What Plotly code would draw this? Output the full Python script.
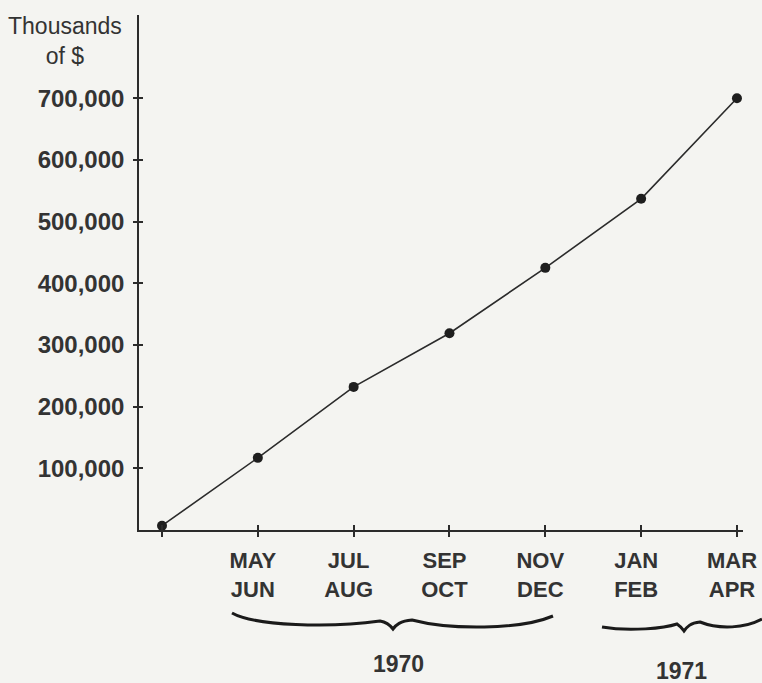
import plotly.graph_objects as go

# ---- data ----
tick_labels = ["", "MAY<br>JUN", "JUL<br>AUG", "SEP<br>OCT", "NOV<br>DEC", "JAN<br>FEB", "MAR<br>APR"]
values = [7000, 117000, 232000, 319000, 425000, 537000, 700000]
y_ticks = [100000, 200000, 300000, 400000, 500000, 600000, 700000]
y_tick_text = ["100,000", "200,000", "300,000", "400,000", "500,000", "600,000", "700,000"]
years = ["1970", "1971"]
y_title = "Thousands<br>of $"

W, H = 762, 683
ML, MR, MT, MB = 139, 19, 15, 153
INK = "#2b2b2b"
TXT = "#333333"
BG = "#f4f4f1"
SANS = "Liberation Sans, Arial, sans-serif"

xs = list(range(len(values)))

fig = go.Figure()
fig.add_trace(go.Scatter(
    x=xs, y=values, mode="lines+markers",
    line=dict(color=INK, width=1.6),
    marker=dict(color="#1e1e1e", size=10),
    cliponaxis=False, showlegend=False, hoverinfo="skip",
))
# invisible trace to activate overlay axes (for crossing ticks)
fig.add_trace(go.Scatter(x=xs, y=values, xaxis="x2", yaxis="y2", mode="none",
                         showlegend=False, hoverinfo="skip"))

xr = [-0.24, 6.063]
yr = [0, 835000]

fig.update_layout(
    width=W, height=H,
    margin=dict(l=ML, r=MR, t=MT, b=MB, autoexpand=False),
    paper_bgcolor=BG, plot_bgcolor=BG,
    xaxis=dict(range=xr, tickvals=xs, ticktext=tick_labels, showgrid=False, zeroline=False,
               automargin=False,
               showline=True, linecolor=INK, linewidth=1.6, ticks="outside", ticklen=5,
               tickwidth=1.6, tickcolor=INK, ticklabelstandoff=5, ticklabelshift=-5,
               ticklabeloverflow="allow",
               tickfont=dict(family=SANS, size=22, color=TXT, weight="bold")),
    yaxis=dict(range=yr, tickvals=y_ticks, ticktext=y_tick_text, showgrid=False, zeroline=False,
               automargin=False,
               showline=True, linecolor=INK, linewidth=1.6, ticks="outside", ticklen=4,
               tickwidth=1.6, tickcolor=INK, ticklabelstandoff=4,
               tickfont=dict(family=SANS, size=24, color=TXT, weight="bold")),
    xaxis2=dict(range=xr, overlaying="x", tickvals=xs, showticklabels=False, showgrid=False,
                automargin=False,
                zeroline=False, ticks="inside", ticklen=5, tickwidth=1.6, tickcolor=INK),
    yaxis2=dict(range=yr, overlaying="y", tickvals=y_ticks, showticklabels=False, showgrid=False,
                automargin=False,
                zeroline=False, ticks="inside", ticklen=4, tickwidth=1.6, tickcolor=INK),
)

PW = W - ML - MR
PH = H - MT - MB


def px(xp):
    return (xp - ML) / PW


def py(yp):
    return (H - MB - yp) / PH


# axis title (top-left)
fig.add_annotation(text=y_title, xref="paper", yref="paper",
                   x=px(65), y=py(41), xanchor="center", yanchor="middle",
                   showarrow=False, align="center",
                   font=dict(family=SANS, size=23, color=TXT))


def brace_path(pts):
    s = f"M {px(pts[0][0])},{py(pts[0][1])}"
    for i in range(1, len(pts), 3):
        c1, c2, e = pts[i], pts[i + 1], pts[i + 2]
        s += f" C {px(c1[0])},{py(c1[1])} {px(c2[0])},{py(c2[1])} {px(e[0])},{py(e[1])}"
    return s


brace1 = [(232, 613), (255, 626), (330, 628), (380, 621), (386, 622), (390, 625), (393, 629),
          (396, 625), (400, 621), (412, 620), (450, 630), (520, 630), (553, 616)]
brace2 = [(602, 627), (630, 632), (665, 628), (677, 624), (680, 626), (682, 628), (684, 631),
          (687, 627), (690, 623), (700, 622), (720, 630), (745, 628), (762, 619)]
for b in (brace1, brace2):
    fig.add_shape(type="path", path=brace_path(b), xref="paper", yref="paper",
                  line=dict(color="#1a1a1a", width=3), layer="above")

fig.add_annotation(text=years[0], xref="paper", yref="paper", x=px(398), y=py(664),
                   showarrow=False, xanchor="center", yanchor="middle",
                   font=dict(family=SANS, size=23, color=TXT, weight="bold"))
fig.add_annotation(text=years[1], xref="paper", yref="paper", x=px(681), y=py(671),
                   showarrow=False, xanchor="center", yanchor="middle",
                   font=dict(family=SANS, size=23, color=TXT, weight="bold"))

fig.write_html("out.html", config={"displayModeBar": False},
               post_script=("document.body.style.margin='0';"
                            "document.body.style.overflow='hidden';"
                            "document.documentElement.style.overflow='hidden';"
                            "document.body.style.background='%s';" % BG))
